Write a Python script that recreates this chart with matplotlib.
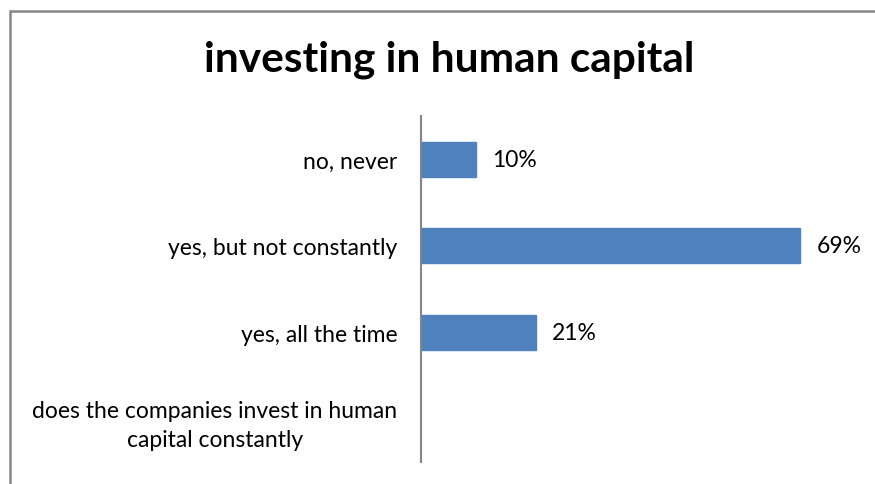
import matplotlib.pyplot as plt
from matplotlib.patches import Rectangle

categories = ["no, never", "yes, but not constantly", "yes, all the time",
              "does the companies invest in human\ncapital constantly"]
values = [10, 69, 21, None]

plt.rcParams["font.family"] = ["Lato", "DejaVu Sans"]

fig = plt.figure(figsize=(8.75, 4.85), dpi=100)
ax = fig.add_axes([0.481, 0.0454, 0.503, 0.7134])

ypos = list(range(len(categories)))
for y, v in zip(ypos, values):
    if v is None:
        continue
    ax.barh(y, v, height=0.4, color="#4f81bd", edgecolor="#4f81bd")
    ax.text(v + 2.9, y, f"{v}%", va="center", ha="left", fontsize=16.5)

ax.set_xlim(0, 80)
ax.set_ylim(len(categories) - 0.5, -0.5)
ax.set_yticks(ypos)
ax.set_yticklabels(categories, fontsize=16.5, multialignment="center",
                   linespacing=1.5)
ax.tick_params(axis="y", length=0, pad=17)
ax.set_xticks([])
for s in ["top", "right", "bottom"]:
    ax.spines[s].set_visible(False)
ax.spines["left"].set_color("#868686")
ax.spines["left"].set_linewidth(1.5)

fig.text(0.513, 0.877, "investing in human capital", ha="center", va="center",
         fontsize=30.5, fontweight="bold")

# chart frame, cut off at the right and bottom edges
fig.patches.append(Rectangle((10 / 875, -0.1), 1.2, 1 - 11.5 / 485 + 0.1,
                             transform=fig.transFigure, fill=False,
                             edgecolor="#868686", linewidth=1.8))

fig.savefig("out.png", dpi=100)
